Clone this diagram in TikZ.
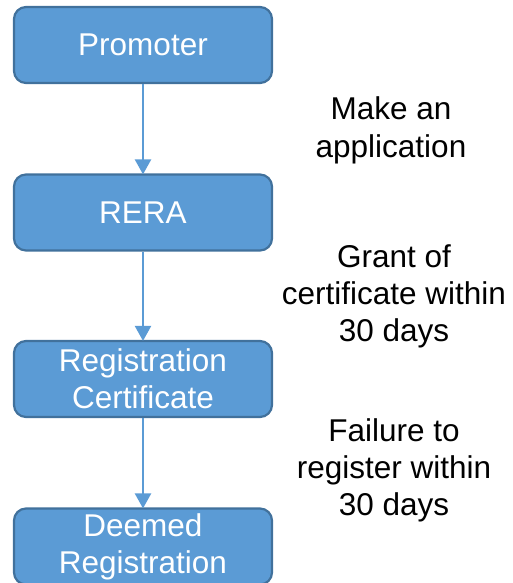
\documentclass[tikz,border=0pt]{standalone}
\usepackage{fontspec}
\setmainfont{Liberation Sans}
\usetikzlibrary{arrows.meta}

\definecolor{boxfill}{HTML}{5B9BD5}
\definecolor{boxedge}{HTML}{41719C}

\tikzset{
  stepbox/.style={draw=boxedge, line width=2.2pt, fill=boxfill, rounded corners=12pt,
    minimum width=258pt, minimum height=76pt, inner sep=0pt, align=center,
    text=white, font=\fontsize{31.5pt}{37pt}\selectfont},
  note/.style={align=center, inner sep=0pt, text=black,
    font=\fontsize{31.5pt}{37pt}\selectfont},
  flow/.style={draw=boxfill, line width=2.3pt, -{Triangle[width=16pt,length=15pt]}, shorten >=-1pt}
}

\begin{document}
\begin{tikzpicture}[x=1pt, y=-1pt]
  \useasboundingbox (0,0) rectangle (513,583);
  \begin{scope}
    \clip (0,0) rectangle (513,583);

    \node[stepbox] (prom) at (143,45) {Promoter};
    \node[stepbox] (rera) at (143,212.5) {RERA};
    \node[stepbox] (cert) at (143,379) {Registration\\Certificate};
    \node[stepbox] (deem) at (143,546.5) {Deemed\\Registration};

    \draw[flow] (prom.south) -- (rera.north);
    \draw[flow] (rera.south) -- (cert.north);
    \draw[flow] (cert.south) -- (deem.north);

    % base anchor sits on the last line of each note
    \node[note, anchor=base] (n1) at (391,157) {Make an\\application};
    \node[note, anchor=base] (n2) at (394,341) {Grant of\\certificate within\\30 days};
    \node[note, anchor=base] (n3) at (394,515) {Failure to\\register within\\30 days};
  \end{scope}
\end{tikzpicture}
\end{document}
